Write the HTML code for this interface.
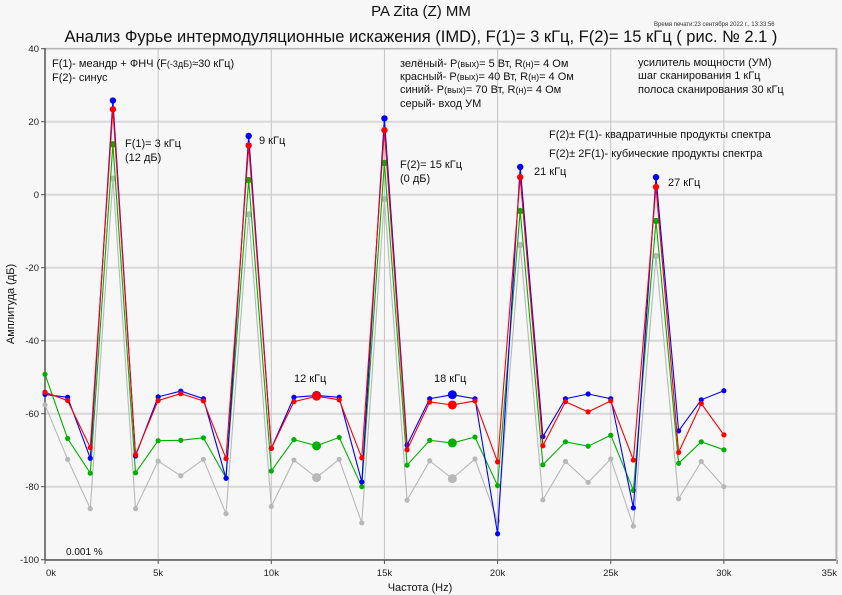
<!DOCTYPE html>
<html><head><meta charset="utf-8"><style>
html,body{margin:0;padding:0;background:#f7f7f7;}
svg{display:block;font-family:"Liberation Sans",sans-serif;}
</style></head><body>
<svg id="s" width="842" height="595" xmlns="http://www.w3.org/2000/svg">
<rect width="842" height="595" fill="#f7f7f7"/>
<g id="grid"></g>
<rect x="45" y="48.7" width="791" height="511" fill="none" stroke="#aaa" stroke-width="1"/>
<line x1="45" y1="48" x2="45" y2="560" stroke="#555" stroke-width="1.5"/>
<line x1="45" y1="560" x2="836" y2="560" stroke="#555" stroke-width="1.5"/>
<g id="ticks" font-size="9.5" fill="#222"></g>
<g id="series"></g>
<text x="421" y="16" font-size="15" text-anchor="middle" fill="#111">PA Zita (Z) MM</text>
<text x="421" y="42" font-size="16.5" text-anchor="middle" fill="#111">Анализ Фурье интермодуляционные искажения (IMD), F(1)= 3 кГц, F(2)= 15 кГц ( рис. № 2.1 )</text>
<text x="654" y="26" font-size="6" fill="#333">Время печати:23 сентября 2022 г., 13:33:56</text>
<g font-size="11" fill="#111">
<text x="52" y="67">F(1)- меандр + ФНЧ (F<tspan font-size="9">(-3дБ)</tspan>≈30 кГц)</text>
<text x="52" y="81">F(2)- синус</text>
<text x="125" y="147">F(1)= 3 кГц</text>
<text x="125" y="161">(12 дБ)</text>
<text x="259" y="144">9 кГц</text>
<text x="400" y="67">зелёный- P<tspan font-size="9">(вых)</tspan>= 5 Вт, R<tspan font-size="9">(н)</tspan>= 4 Ом</text>
<text x="400" y="80">красный- P<tspan font-size="9">(вых)</tspan>= 40 Вт, R<tspan font-size="9">(н)</tspan>= 4 Ом</text>
<text x="400" y="93">синий- P<tspan font-size="9">(вых)</tspan>= 70 Вт, R<tspan font-size="9">(н)</tspan>= 4 Ом</text>
<text x="400" y="107">серый- вход УМ</text>
<text x="638" y="66">усилитель мощности (УМ)</text>
<text x="638" y="79">шаг сканирования 1 кГц</text>
<text x="638" y="93">полоса сканирования 30 кГц</text>
<text x="549" y="138">F(2)± F(1)- квадратичные продукты спектра</text>
<text x="549" y="157">F(2)± 2F(1)- кубические продукты спектра</text>
<text x="400" y="168">F(2)= 15 кГц</text>
<text x="400" y="182">(0 дБ)</text>
<text x="534" y="175">21 кГц</text>
<text x="668" y="186">27 кГц</text>
<text x="294" y="382">12 кГц</text>
<text x="434" y="382">18 кГц</text>
<text x="66" y="555" font-size="10">0.001 %</text>
<text x="420" y="591" text-anchor="middle">Частота (Hz)</text>
<text transform="translate(14,304) rotate(-90)" text-anchor="middle">Амплитуда (дБ)</text>
</g>
</svg>
<script>
var X=function(k){return 45+k*22.63;},Y=function(v){return 194.7-v*3.65;};
var ns="http://www.w3.org/2000/svg";
function el(p,t,a){var e=document.createElementNS(ns,t);for(var k in a)e.setAttribute(k,a[k]);p.appendChild(e);return e;}
var g=document.getElementById('grid'),tk=document.getElementById('ticks');
for(var v=-80;v<=40;v+=20){el(g,'line',{x1:45,x2:836,y1:Y(v),y2:Y(v),stroke:'#d8d8d8','stroke-width':2});}
for(var k=5;k<=35;k+=5){el(g,'line',{x1:X(k),x2:X(k),y1:48,y2:560,stroke:'#c4c4c4','stroke-width':1});}
for(var v=-100;v<=40;v+=20){el(tk,'line',{x1:41,x2:45,y1:Y(v),y2:Y(v),stroke:'#555'});var t=el(tk,'text',{x:39,y:Y(v)+3.5,'text-anchor':'end'});t.textContent=v;}
for(var k=0;k<=35;k+=5){el(tk,'line',{x1:X(k),x2:X(k),y1:560,y2:564,stroke:'#555'});var t=el(tk,'text',{x:k==35?837:X(k)+(k==0?6:0),y:576,'text-anchor':k==35?'end':'middle'});t.textContent=k+'k';}
var D={
'#b8b8b8':[-57.6,-72.5,-86,4.4,-86,-73,-77,-72.5,-87.4,-5.4,-85.4,-72.7,-77.5,-72.5,-89.9,-1.2,-83.7,-72.9,-77.8,-72.4,-89.4,-13.8,-83.6,-73.1,-78.8,-72.4,-90.8,-16.8,-83.3,-73.1,-80],
'#00b000':[-49.2,-66.8,-76.3,13.8,-76.2,-67.4,-67.3,-66.6,-77.6,4.0,-75.7,-67.1,-68.8,-66.5,-80,8.7,-74.1,-67.3,-68,-66.4,-79.7,-4.5,-74,-67.7,-68.9,-65.9,-81,-7.2,-73.6,-67.7,-69.9],
'#0000ff':[-54.7,-55.5,-72.2,25.8,-71.6,-55.4,-53.8,-55.9,-77.7,16.1,-69.5,-55.5,-55,-55.5,-78.7,20.9,-68.6,-55.9,-54.8,-55.9,-92.9,7.6,-66.3,-55.9,-54.6,-55.9,-85.8,4.8,-64.7,-56.2,-53.7],
'#ff0000':[-54.1,-56.4,-69.3,23.4,-71.2,-56.4,-54.5,-56.5,-72.3,13.5,-69.5,-56.7,-55.2,-56.2,-72.1,17.7,-69.9,-56.8,-57.6,-56.5,-73.2,4.8,-68.8,-56.7,-59.5,-56.5,-72.7,2.1,-70.6,-57.2,-65.8]};
var s=document.getElementById('series');
for(var c in D){var a=D[c],p='';for(var i=0;i<a.length;i++)p+=(i?'L':'M')+X(i).toFixed(1)+' '+Y(a[i]).toFixed(1);
el(s,'path',{d:p,fill:'none',stroke:c,'stroke-width':1.1});
for(var i=0;i<a.length;i++){var big=(i==12||i==18);el(s,'circle',{cx:X(i),cy:Y(a[i]),r:big?4.5:(i%6==3?3.2:2.6),fill:c});}}
</script>
</body></html>
